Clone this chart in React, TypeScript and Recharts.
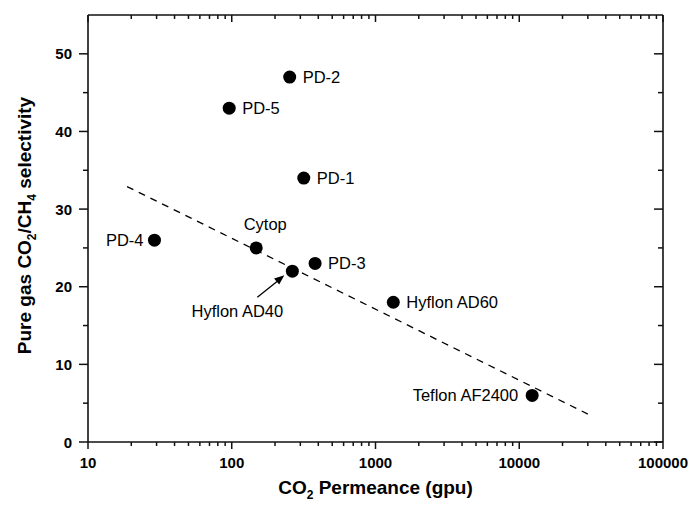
import React from "react";
import { Scatter, ScatterChart, XAxis, YAxis } from "recharts";

// Pure-gas CO2/CH4 selectivity vs CO2 permeance, log x axis.

const materials = ["PD-1", "PD-2", "PD-3", "PD-4", "PD-5", "Cytop", "Hyflon AD40", "Hyflon AD60", "Teflon AF2400"];
const permeance = [317, 253, 380, 29, 96, 148, 264, 1330, 12300];
const selectivity = [34, 47, 23, 26, 43, 25, 22, 18, 6];

// dashed trend line end points
const trendX = [18.7, 30000];
const trendY = [32.9, 3.6];

const X_DECADES = [10, 100, 1000, 10000, 100000];
const X_MINOR = [2, 3, 4, 5, 6, 7, 8, 9];
const Y_TICKS = [0, 5, 10, 15, 20, 25, 30, 35, 40, 45, 50];
const Y_LABELS = [0, 10, 20, 30, 40, 50];

const X_TICKS = X_DECADES.flatMap((d, i) =>
  i < X_DECADES.length - 1 ? [d, ...X_MINOR.map((m) => m * d)] : [d]
);

const points = materials.map((name, i) => ({ name, x: permeance[i], y: selectivity[i] }));
const trend = trendX.map((x, i) => ({ x, y: trendY[i] }));

const FONT = "'Liberation Sans', Arial, Helvetica, sans-serif";
const INK = "#111";

const LABEL_POS: Record<string, { dx: number; dy: number; anchor: "start" | "middle" | "end" }> = {
  "PD-1": { dx: 13, dy: 6, anchor: "start" },
  "PD-2": { dx: 13, dy: 6, anchor: "start" },
  "PD-3": { dx: 13, dy: 6, anchor: "start" },
  "PD-4": { dx: -11, dy: 6, anchor: "end" },
  "PD-5": { dx: 13, dy: 6, anchor: "start" },
  Cytop: { dx: 9, dy: -18, anchor: "middle" },
  "Hyflon AD40": { dx: -55, dy: 46, anchor: "middle" },
  "Hyflon AD60": { dx: 13, dy: 6, anchor: "start" },
  "Teflon AF2400": { dx: -14, dy: 6, anchor: "end" },
};

function Marker(props: any) {
  const { cx, cy, payload } = props;
  const pos = LABEL_POS[payload.name];
  return (
    <g>
      <circle cx={cx} cy={cy} r={6.5} fill="#000" />
      <text
        x={cx + pos.dx}
        y={cy + pos.dy}
        textAnchor={pos.anchor}
        fontFamily={FONT}
        fontSize={16.5}
        fill="#000"
      >
        {payload.name}
      </text>
      {payload.name === "Hyflon AD40" && (
        <g>
          <line x1={cx - 35} y1={cy + 26} x2={cx - 15} y2={cy + 10} stroke="#000" strokeWidth={1.3} />
          <polygon
            points={`${cx - 8},${cy + 4} ${cx - 18.3},${cy + 7.2} ${cx - 13.2},${cy + 13.4}`}
            fill="#000"
          />
        </g>
      )}
    </g>
  );
}

function BottomTick(props: any) {
  const { x, y, payload } = props;
  const major = X_DECADES.includes(payload.value);
  return (
    <g>
      <line x1={x} x2={x} y1={y} y2={y + (major ? 7 : 4)} stroke={INK} strokeWidth={1.5} />
      {major && (
        <text x={x} y={y + 26} textAnchor="middle" fontFamily={FONT} fontWeight="bold" fontSize={15} fill="#000">
          {payload.value}
        </text>
      )}
    </g>
  );
}

function TopTick(props: any) {
  const { x, y, payload } = props;
  const major = X_DECADES.includes(payload.value);
  return <line x1={x} x2={x} y1={y} y2={y + (major ? 7 : 4)} stroke={INK} strokeWidth={1.5} />;
}

function LeftTick(props: any) {
  const { x, y, payload } = props;
  const major = Y_LABELS.includes(payload.value);
  return (
    <g>
      <line x1={x - (major ? 9 : 5)} x2={x} y1={y} y2={y} stroke={INK} strokeWidth={1.5} />
      {major && (
        <text x={x - 16} y={y + 5.5} textAnchor="end" fontFamily={FONT} fontWeight="bold" fontSize={15} fill="#000">
          {payload.value}
        </text>
      )}
    </g>
  );
}

function RightTick(props: any) {
  const { x, y, payload } = props;
  const major = Y_LABELS.includes(payload.value);
  return <line x1={x - (major ? 9 : 5)} x2={x} y1={y} y2={y} stroke={INK} strokeWidth={1.5} />;
}

function XTitle(props: any) {
  const { x, y, width } = props.viewBox;
  return (
    <text x={x + width / 2} y={y + 52} textAnchor="middle" fontFamily={FONT} fontWeight="bold" fontSize={19} fill="#000">
      CO
      <tspan fontSize={12} dy={5}>2</tspan>
      <tspan dy={-5}> Permeance (gpu)</tspan>
    </text>
  );
}

function YTitle(props: any) {
  const { y, height } = props.viewBox;
  const cx = 31;
  const cy = y + height / 2 - 3;
  return (
    <text
      x={cx}
      y={cy}
      transform={`rotate(-90, ${cx}, ${cy})`}
      textAnchor="middle"
      fontFamily={FONT}
      fontWeight="bold"
      fontSize={19}
      fill="#000"
    >
      Pure gas CO
      <tspan fontSize={12} dy={5}>2</tspan>
      <tspan dy={-5}>/CH</tspan>
      <tspan fontSize={12} dy={5}>4</tspan>
      <tspan dy={-5}> selectivity</tspan>
    </text>
  );
}

const axisLine = { stroke: INK, strokeWidth: 1.6 };

export default function App() {
  return (
    <div style={{ position: "absolute", left: 0, top: 0, background: "#fff" }}>
      <ScatterChart width={689} height={507} margin={{ top: 15, right: 26, bottom: 25, left: 28 }}>
        <XAxis
          xAxisId="b"
          dataKey="x"
          type="number"
          scale="log"
          domain={[10, 100000]}
          allowDataOverflow
          ticks={X_TICKS}
          interval={0}
          tick={<BottomTick />}
          tickLine={false}
          tickSize={0}
          tickMargin={0}
          height={40}
          axisLine={axisLine}
          label={{ content: <XTitle /> }}
        />
        <XAxis
          xAxisId="t"
          orientation="top"
          dataKey="x"
          type="number"
          scale="log"
          domain={[10, 100000]}
          allowDataOverflow
          ticks={X_TICKS}
          interval={0}
          tick={<TopTick />}
          tickLine={false}
          tickSize={0}
          tickMargin={0}
          height={1}
          mirror
          axisLine={axisLine}
        />
        <YAxis
          yAxisId="l"
          dataKey="y"
          type="number"
          domain={[0, 55]}
          allowDataOverflow
          ticks={Y_TICKS}
          interval={0}
          tick={<LeftTick />}
          tickLine={false}
          tickSize={0}
          tickMargin={0}
          width={60}
          axisLine={axisLine}
          label={{ content: <YTitle /> }}
        />
        <YAxis
          yAxisId="r"
          orientation="right"
          dataKey="y"
          type="number"
          domain={[0, 55]}
          allowDataOverflow
          ticks={Y_TICKS}
          interval={0}
          tick={<RightTick />}
          tickLine={false}
          tickSize={0}
          tickMargin={0}
          width={1}
          mirror
          axisLine={axisLine}
        />
        <Scatter
          data={trend}
          xAxisId="t"
          yAxisId="r"
          line={{ stroke: "#000", strokeWidth: 1.3, strokeDasharray: "7 6" }}
          lineType="joint"
          shape={() => <g />}
          isAnimationActive={false}
        />
        <Scatter data={points} xAxisId="b" yAxisId="l" shape={<Marker />} isAnimationActive={false} />
      </ScatterChart>
    </div>
  );
}
